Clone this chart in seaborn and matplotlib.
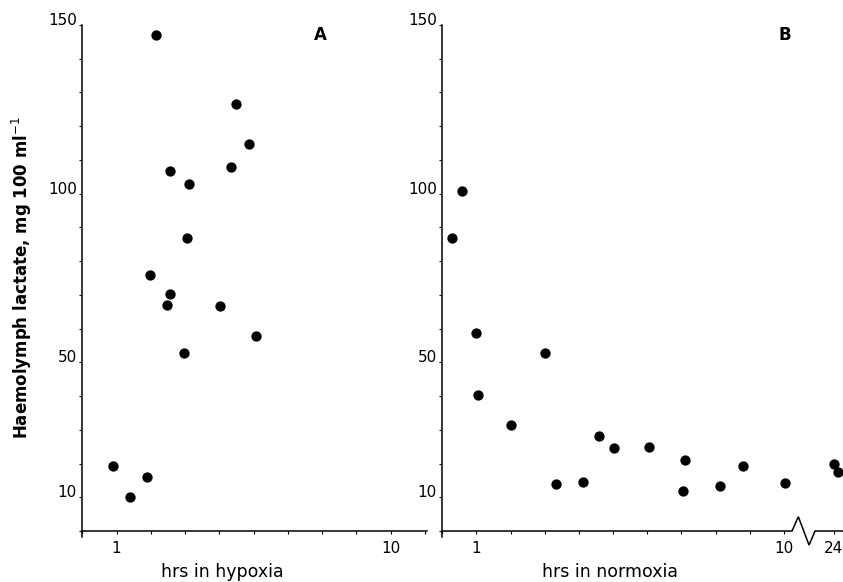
import numpy as np
import pandas as pd
import matplotlib
matplotlib.use("Agg")
import matplotlib.pyplot as plt
import seaborn as sns

# ---- data ----
hyp_hours = [2.30, 4.91, 5.36, 4.76, 2.74, 3.37, 3.31, 2.10, 2.75, 2.67,
             4.40, 5.58, 3.23, 0.88, 1.44, 2.01]
hyp_lactate = [147.1, 126.6, 114.6, 107.9, 106.8, 102.9, 87.0, 75.9, 70.4, 66.9,
               66.6, 57.7, 52.7, 19.3, 10.1, 15.9]

norm_hours = [0.57, 0.29, 0.98, 1.04, 3.00, 2.01, 4.59, 5.03, 6.04, 7.11,
              3.32, 4.11, 7.04, 8.12, 8.81, 10.03, 24.0, 25.8]
norm_lactate = [100.7, 87.0, 58.6, 40.3, 52.7, 31.4, 28.1, 24.7, 24.8, 21.2,
                13.9, 14.5, 11.9, 13.2, 19.2, 14.2, 19.8, 17.4]

y_tick_values = [10, 50, 100, 150]
a_tick_values = [1, 10]
b_tick_values = [1, 10, 24]

dfA = pd.DataFrame({"hours": hyp_hours, "lactate": hyp_lactate})
dfB = pd.DataFrame({"hours": norm_hours, "lactate": norm_lactate})

sns.set_theme(style="ticks")
plt.rcParams['font.family'] = ['DejaVu Sans']
plt.rcParams['axes.linewidth'] = 1.1
plt.rcParams['text.color'] = 'black'
plt.rcParams['axes.labelcolor'] = 'black'
plt.rcParams['axes.edgecolor'] = 'black'

fig = plt.figure(figsize=(8.43, 5.82), dpi=100)
axA = fig.add_axes([0.0976, 0.0876, 0.409, 0.8694])
axB = fig.add_axes([0.5247, 0.0876, 0.4753, 0.8694])

for ax, df in ((axA, dfA), (axB, dfB)):
    sns.scatterplot(data=df, x="hours", y="lactate", ax=ax, color="black",
                    s=55, edgecolor="black", linewidth=0, clip_on=False, zorder=5)

# broken axis scale for panel B
BRK = 10.6
S = 0.0642
def fwd(x):
    x = np.asarray(x, dtype=float)
    return np.where(x <= BRK, x, BRK + (x - BRK) * S)
def inv(u):
    u = np.asarray(u, dtype=float)
    return np.where(u <= BRK, u, BRK + (u - BRK) / S)
axB.set_xscale('function', functions=(fwd, inv))

axA.set_xlim(-0.125, 11.2)
axB.set_xlim(0, 28.2)

for ax in (axA, axB):
    ax.set_ylim(0, 150)
    ax.spines['top'].set_visible(False)
    ax.spines['right'].set_visible(False)
    ax.spines['left'].set_bounds(-1.8, 150)
    ax.set_yticks(y_tick_values, [str(v) for v in y_tick_values])
    ax.set_yticks(np.arange(0, 151, 10), minor=True)
    ax.tick_params(axis='y', which='both', direction='out', length=2.5, width=0.8,
                   pad=1.5, labelsize=11, colors='black')
    ax.tick_params(axis='x', which='both', direction='out', length=2.5, width=0.8,
                   pad=5, labelsize=11, colors='black')
    ax.set_ylabel("")
    for lab in ax.get_yticklabels():
        lab.set_verticalalignment('baseline')

axA.set_xticks(a_tick_values, [str(v) for v in a_tick_values])
axA.set_xticks([-0.125 + 1.125 * k for k in range(11)], minor=True)
axB.set_xticks(b_tick_values, [str(v) for v in b_tick_values])
axB.set_xticks(list(range(0, 11)) + [24], minor=True)

# panel B bottom axis with break symbol
axB.spines['bottom'].set_visible(False)
brk_x = [0, 0.8727, 0.8885, 0.9152, 0.9302, 1.0]
brk_y = [0, 0, 0.0283, -0.0277, 0, 0]
axB.plot(brk_x, brk_y, transform=axB.transAxes, color='black', lw=1.1,
         clip_on=False, solid_joinstyle='miter')

axA.set_xlabel("hrs in hypoxia", fontsize=12.5, color='black')
axB.set_xlabel("hrs in normoxia", fontsize=12.5, color='black')
axA.xaxis.set_label_coords(0.405, -0.063)
axB.xaxis.set_label_coords(0.4185, -0.063)

axA.set_ylabel("Haemolymph lactate, mg 100 ml$^{-1}$", fontsize=12,
               fontweight='bold', color='black')
axA.yaxis.set_label_coords(-0.14, 0.5)

axA.text(0.69, 0.98, "A", transform=axA.transAxes, ha='center', va='center',
         fontsize=12, fontweight='bold', color='black')
axB.text(0.855, 0.98, "B", transform=axB.transAxes, ha='center', va='center',
         fontsize=12, fontweight='bold', color='black')

fig.savefig("out.png", dpi=100)
